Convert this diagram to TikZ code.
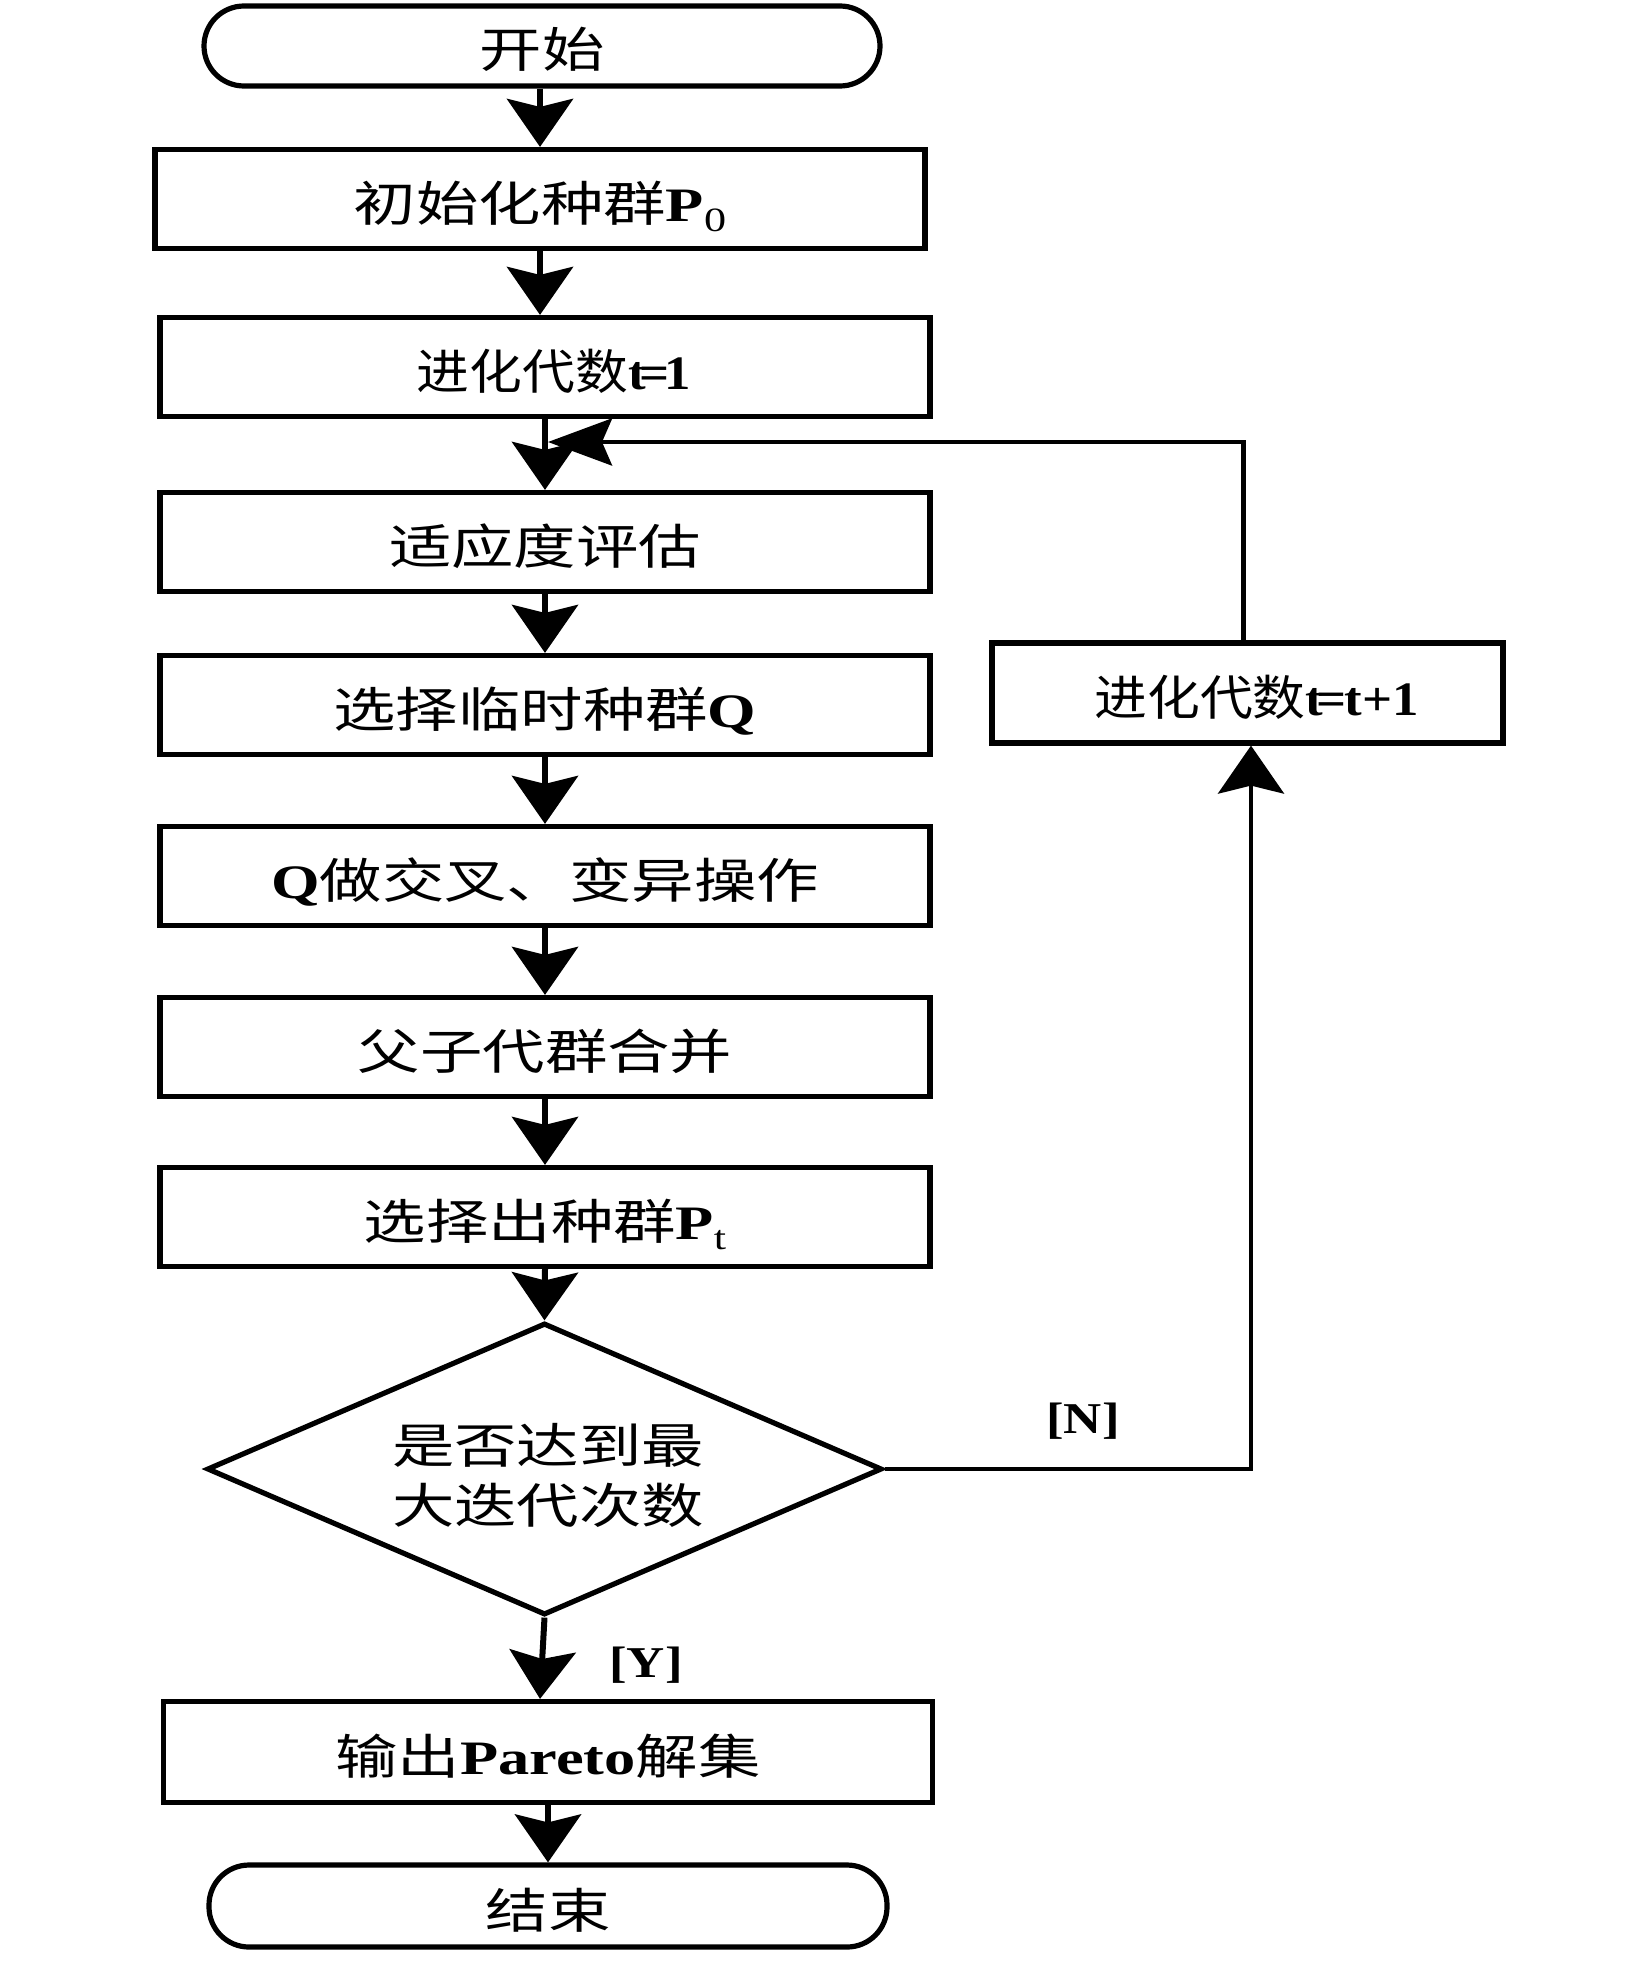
\documentclass[tikz,border=0pt]{standalone}
\usepackage{fontspec}
\usepackage{graphicx}
\setmainfont{Liberation Serif}
\newfontfamily\cjk{Noto Sans CJK SC}
\usetikzlibrary{arrows.meta,shapes.geometric}
\newcommand\sx[2][1.3]{\scalebox{#1}[1]{#2}}
\newcommand\lb[1]{{\rmfamily\bfseries #1}}
\newcommand\subs[1]{\raisebox{-0.22em}{\rmfamily\fontsize{17pt}{17pt}\selectfont #1}}
\tikzset{
  box/.style={draw, line width=2.6pt, minimum width=385pt, minimum height=49.5pt, inner sep=0pt,
    text height=24pt, text depth=2pt,
    font=\cjk\fontsize{24pt}{30pt}\selectfont},
  term/.style={box, rounded corners=20pt, minimum width=338pt, minimum height=40pt},
  arr/.style={line width=3pt, -{Stealth[length=24pt,width=33pt,inset=4pt]}},
  arrh/.style={line width=2.3pt, -{Stealth[length=32pt,width=23.5pt,inset=5pt]}},
  lbl/.style={inner sep=0pt, font=\rmfamily\bfseries\fontsize{22pt}{22pt}\selectfont},
  dtext/.style={inner sep=0pt, align=center, font=\cjk\fontsize{24pt}{30pt}\selectfont}
}
\begin{document}
\begin{tikzpicture}[x=0.5pt,y=-0.5pt]
\useasboundingbox[fill=white] (0,0) rectangle (1650,1980);
\node[term] (start) at (542,46) {\sx{开始}};
\node[box] (b1) at (540,199) {\sx{初始化种群\lb{P}\subs{0}}};
\node[box] (b2) at (545,367) {\hspace*{9pt}\sx[1.1]{进化代数\lb{t\kern-3pt=\kern-2pt1}}};
\node[box] (b3) at (545,542) {\sx{适应度评估}};
\node[box] (b4) at (545,705) {\sx{选择临时种群\lb{Q}}};
\node[box] (b5) at (545,876) {\sx{\lb{Q}做交叉、变异操作}};
\node[box] (b6) at (545,1047) {\sx{父子代群合并}};
\node[box] (b7) at (545,1217) {\sx{选择出种群\lb{P}\subs{t}}};
\node[diamond, draw, line width=2.6pt, minimum width=337.5pt, minimum height=146pt, inner sep=0pt] (d) at (544.5,1469) {};
\node[dtext] (dt) at (548,1475) {\sx{是否达到最}\\\sx{大迭代次数}};
\node[box, minimum width=384.5pt, minimum height=50.5pt] (o) at (548,1752) {\sx{输出\lb{Pareto}解集}};
\node[term, minimum width=339pt, minimum height=41pt] (e) at (548,1906) {\sx{结束}};
\node[box, minimum width=255.5pt, minimum height=50pt] (r) at (1247.5,693) {\hspace*{9pt}\sx[1.1]{进化代数\lb{t\kern-3pt=\kern-1pt t+1}}};
\node[lbl] (nl) at (1083,1421) {\sx[1.2]{[N]}};
\node[lbl] (yl) at (646,1665) {\sx[1.2]{[Y]}};
\coordinate (j) at (548,442);
\draw[arr] (b1.north |- start.south) -- (b1.north);
\draw[arr] (b1.south) -- (b1.south |- b2.north);
\draw[arr] (b2) -- (b3);
\draw[arr] (b3) -- (b4);
\draw[arr] (b4) -- (b5);
\draw[arr] (b5) -- (b6);
\draw[arr] (b6) -- (b7);
\draw[arr] (b7.south) -- (d.north);
\draw[arr] (d.south) -- ([xshift=-4pt]o.north);
\draw[arr] (o) -- (e);
\draw[arrh] ([xshift=-2pt]r.north) |- (j);
\draw[arr, line width=2.3pt] (d.east) -| ([xshift=1.75pt]r.south);
\end{tikzpicture}
\end{document}
